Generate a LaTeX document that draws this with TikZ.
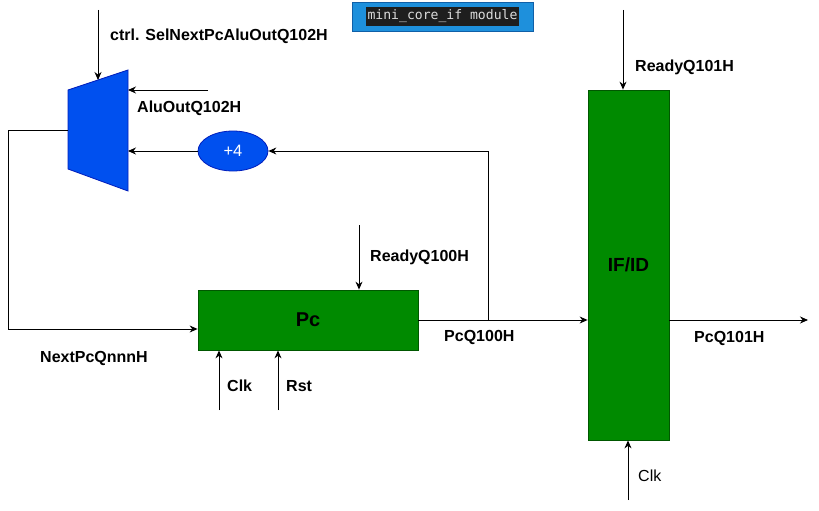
\documentclass[tikz,border=0pt]{standalone}
\usepackage{fontspec}
\setmainfont{Liberation Sans}
\setmonofont{DejaVu Sans Mono}
\usetikzlibrary{arrows.meta,shapes.geometric}
\definecolor{muxblue}{HTML}{0050EF}
\definecolor{muxstroke}{HTML}{001DBC}
\definecolor{regfill}{HTML}{008A00}
\definecolor{regstroke}{HTML}{005700}
\definecolor{titlefill}{HTML}{1E90DC}
\definecolor{titlestroke}{HTML}{1060A8}
\definecolor{codebg}{HTML}{1E1E1E}
\definecolor{codefg}{HTML}{DCDCDC}
\tikzset{
  wire/.style={line width=0.9pt, draw=black},
  arr/.style={wire, -{Stealth[length=8pt,width=7pt]}},
  lbl/.style={font=\fontsize{16}{19}\selectfont\bfseries, anchor=base west, inner sep=0pt},
  lblr/.style={font=\fontsize{16}{19}\selectfont, anchor=base west, inner sep=0pt},
  regbox/.style={draw=regstroke, fill=regfill, line width=0.8pt, inner sep=0pt},
}
\begin{document}
\begin{tikzpicture}[x=1pt,y=-1pt]
\useasboundingbox (0,0) rectangle (819,511);
% title
\node[draw=titlestroke, fill=titlefill, minimum width=181pt, minimum height=29pt, inner sep=0pt, line width=0.8pt] (title) at (442.5,16.5) {};
\node[fill=codebg, minimum width=153pt, minimum height=19pt, inner sep=0pt, text=codefg, font=\ttfamily\fontsize{13.1}{15}\selectfont] (titletext) at (442.5,16.5) {mini\_core\_if module};
% mux
\draw[fill=muxblue, draw=muxstroke, line width=0.8pt] (68,90) -- (128,70) -- (128,191) -- (68,169) -- cycle;
\coordinate (muxtop) at (98,80);
\coordinate (muxin1) at (128,90);
\coordinate (muxin2) at (128,151);
\coordinate (muxout) at (68,130);
% +4
\node[ellipse, draw=muxstroke, fill=muxblue, minimum width=70pt, minimum height=40pt, inner sep=0pt, text=white, font=\fontsize{16.5}{19}\selectfont, line width=0.8pt] (plus4) at (233,151) {+4};
% registers
\node[regbox, minimum width=220pt, minimum height=60pt, font=\fontsize{20}{24}\selectfont\bfseries] (pc) at (308,320) {Pc};
\node[regbox, minimum width=81pt, minimum height=350pt, font=\fontsize{19}{23}\selectfont\bfseries] (ifid) at (628.5,265) {IF/ID};
% free ends
\coordinate (ctrlsrc) at (98,10);
\coordinate (alusrc) at (208,90);
\coordinate (j) at (488,320);
\coordinate (lt) at (8,130);
\coordinate (lb) at (8,329);
\coordinate (rdy0) at (359,225);
\coordinate (clk0) at (219,410);
\coordinate (rst0) at (278,410);
\coordinate (rdy1) at (623,10);
\coordinate (out1) at (808,320);
\coordinate (clk1) at (628,500);
% connectors
\draw[arr] (ctrlsrc) -- (muxtop);
\draw[arr] (alusrc) -- (muxin1);
\draw[arr] (plus4.west) -- (muxin2);
\draw[arr] (j) -- (j |- plus4.east) -- (plus4.east);
\draw[arr] (muxout) -- (lt) -- (lb) -- (pc.west |- lb);
\draw[arr] (pc.east) -- (ifid.west |- pc.east);
\draw[arr] (rdy0) -- (rdy0 |- pc.north);
\draw[arr] (clk0) -- (clk0 |- pc.south);
\draw[arr] (rst0) -- (rst0 |- pc.south);
\draw[arr] (rdy1) -- (rdy1 |- ifid.north);
\draw[arr] (ifid.east |- out1) -- (out1);
\draw[arr] (clk1) -- (clk1 |- ifid.south);
% labels
\node[lbl] (lctrl) at (110,41) {ctrl. SelNextPcAluOutQ102H};
\node[lbl] (lalu) at (137,112) {AluOutQ102H};
\node[lbl] (lrdy0) at (370,261) {ReadyQ100H};
\node[lbl] (lclk0) at (227,391) {Clk};
\node[lbl] (lrst) at (286,391) {Rst};
\node[lbl] (lpcq) at (444,341) {PcQ100H};
\node[lbl] (lrdy1) at (635,71) {ReadyQ101H};
\node[lbl] (lpcq1) at (694,342) {PcQ101H};
\node[lblr] (lclk1) at (638,481) {Clk};
\node[lbl] (lnext) at (40,362) {NextPcQnnnH};
\end{tikzpicture}
\end{document}
